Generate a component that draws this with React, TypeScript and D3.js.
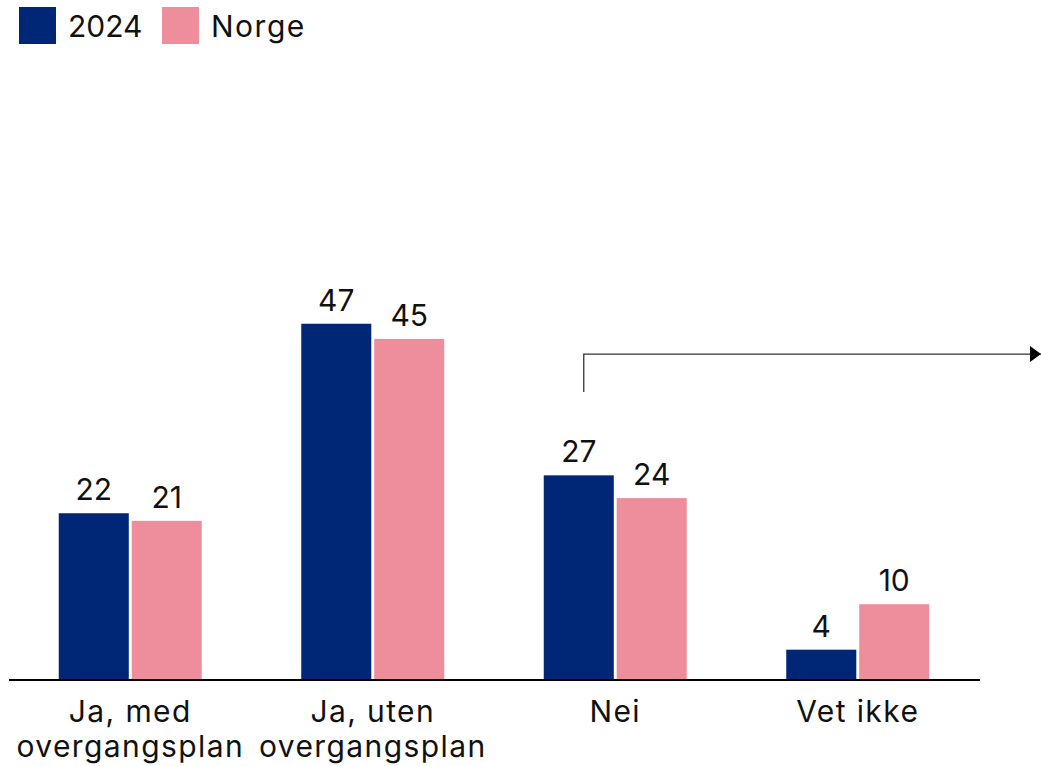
import React from 'react'
import * as d3 from 'd3'

const categories = [['Ja, med', 'overgangsplan'], ['Ja, uten', 'overgangsplan'], ['Nei'], ['Vet ikke']]
const seriesNames = ['2024', 'Norge']
const values2024 = [22, 47, 27, 4]
const valuesNorge = [21, 45, 24, 10]

const COLORS = ['#002776', '#EE8E9C']
const FONT = 'Inter, "Noto Sans", sans-serif'

const W = 1041
const H = 766

const App: React.FC = () => {
  const keys = categories.map((c) => c.join(' '))
  const x = d3.scaleBand().domain(keys).range([9, 979])
  const sub = d3
    .scaleBand()
    .domain(seriesNames)
    .range([0, 143])
    .paddingInner(0.04)
  const y = d3.scaleLinear().domain([0, 50]).range([680, 301])
  const series = [values2024, valuesNorge]

  const barX = (ci: number, si: number) =>
    (x(keys[ci]) || 0) + x.bandwidth() / 2 - 71.5 + (sub(seriesNames[si]) || 0)

  // arrow above the "Nei" group
  const arrowX = barX(2, 0) + 40
  const arrowTop = y(43)
  const arrowBottom = y(38)

  return (
    <svg
      width={W}
      height={H}
      style={{ position: 'absolute', left: 0, top: 0, background: '#fff' }}
      fontFamily={FONT}
    >
      <defs>
        <marker id="arrowhead" viewBox="0 0 11 16" refX="11" refY="8" markerWidth="11" markerHeight="16" markerUnits="userSpaceOnUse" orient="auto">
          <path d="M0,0 L11,8 L0,16 Z" fill="#000" />
        </marker>
      </defs>

      {/* legend */}
      {seriesNames.map((name, i) => {
        const lx = i === 0 ? 19 : 162
        return (
          <g key={name}>
            <rect x={lx} y={7} width={37} height={37} fill={COLORS[i]} />
            <text x={lx + 49} y={37} fontSize={30} fill="#111" letterSpacing={i === 0 ? 0 : 1.5}>
              {name}
            </text>
          </g>
        )
      })}

      {/* bars */}
      {series.map((vals, si) =>
        vals.map((v, ci) => {
          const bx = barX(ci, si)
          return (
            <g key={`${si}-${ci}`}>
              <rect x={bx} y={y(v)} width={sub.bandwidth()} height={y(0) - y(v)} fill={COLORS[si]} />
              <text x={bx + sub.bandwidth() / 2} y={y(v) - 13} fontSize={30} textAnchor="middle" fill="#111">
                {v}
              </text>
            </g>
          )
        })
      )}

      {/* axis line */}
      <line x1={9} x2={980} y1={y(0)} y2={y(0)} stroke="#000" strokeWidth={2} />

      {/* category labels */}
      {categories.map((lines, ci) => (
        <text key={keys[ci]} x={(x(keys[ci]) || 0) + x.bandwidth() / 2} y={722} fontSize={30} textAnchor="middle" fill="#111" letterSpacing={1.4}>
          {lines.map((l, li) => (
            <tspan key={li} x={(x(keys[ci]) || 0) + x.bandwidth() / 2} dy={li === 0 ? 0 : 35}>
              {l}
            </tspan>
          ))}
        </text>
      ))}

      {/* arrow */}
      <path
        d={`M${arrowX},${arrowBottom} V${arrowTop} H${W}`}
        fill="none"
        stroke="#333"
        strokeWidth={1.3}
        markerEnd="url(#arrowhead)"
      />
    </svg>
  )
}

export default App
